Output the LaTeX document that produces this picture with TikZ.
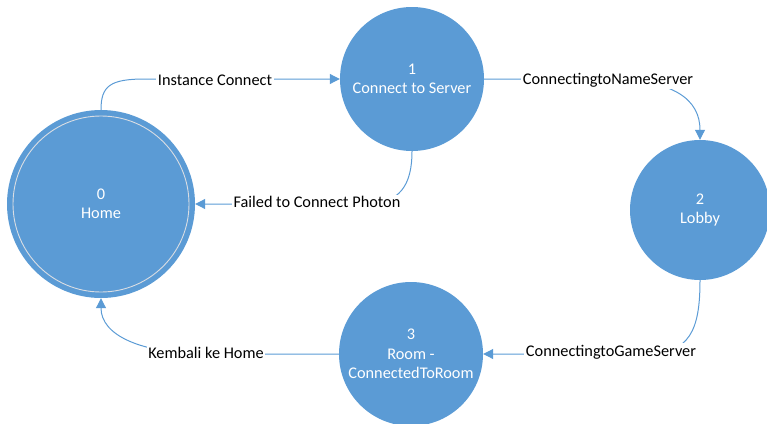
\documentclass[tikz,border=0pt]{standalone}
\usepackage{fontspec}
\setmainfont{Carlito}
\usetikzlibrary{arrows.meta}
\definecolor{stateblue}{HTML}{5B9BD5}
\definecolor{ringgray}{HTML}{D9DDE3}

\begin{document}
\begin{tikzpicture}[x=1pt,y=-1pt,
  state/.style={circle, fill=stateblue, text=white, align=center, inner sep=0pt,
                font=\fontsize{16.3}{19.5}\selectfont},
  trans/.style={draw=stateblue, line width=1pt, -{Triangle[length=10pt,width=10pt]}},
  lbl/.style={fill=white, inner sep=1.5pt, text=black, font=\fontsize{16.3}{19}\selectfont}]
\useasboundingbox (0,0) rectangle (767,423);

% states
\node[state, minimum size=188pt] (home) at (101,204) {0\\Home};
\draw[ringgray, line width=0.9pt] (home.center) circle [radius=88pt];
\node[state, minimum size=144pt] (srv)   at (412,79)  {1\\Connect to Server};
\node[state, minimum size=140pt] (lobby) at (700,210) {2\\Lobby};
\node[state, minimum size=144pt] (room)  at (411,354) {3\\Room -\\ConnectedToRoom};

% transitions
\draw[trans] (home.north) .. controls (101,86) and (110,79) .. (145,79)
  -- (srv.west) node[lbl] at (215,80) {Instance Connect};

\draw[trans] (srv.east) -- (605,79) .. controls (675,79) and (700,100) .. (lobby.north)
  node[lbl] at (608,80) {ConnectingtoNameServer};

\draw[trans] (srv.south) .. controls (412,185) and (400,204) .. (365,204)
  -- (home.east) node[lbl] at (317,202) {Failed to Connect Photon};

\draw[trans] (lobby.south) .. controls (700,330) and (690,354) .. (645,354)
  -- (room.east) node[lbl] at (611,352) {ConnectingtoGameServer};

\draw[trans] (room.west) -- (210,354) .. controls (140,354) and (101,335) .. (home.south)
  node[lbl] at (206,353) {Kembali ke Home};
\end{tikzpicture}
\end{document}
